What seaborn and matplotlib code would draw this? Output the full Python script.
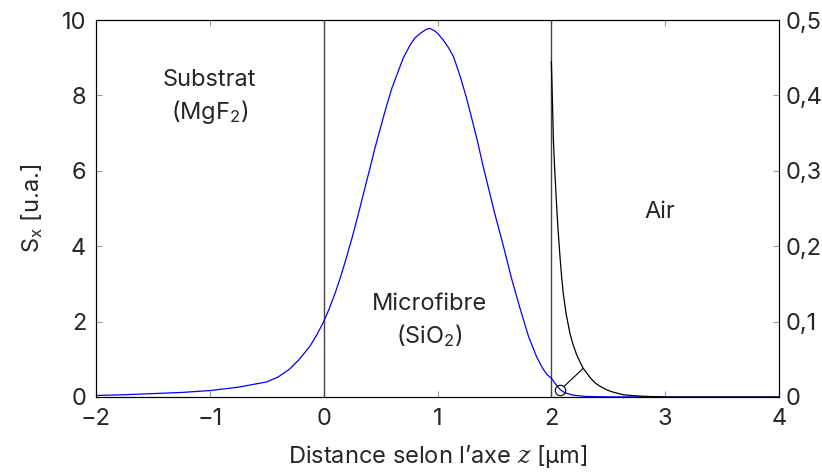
import numpy as np
import matplotlib
matplotlib.use("Agg")
import matplotlib.pyplot as plt
import seaborn as sns
from matplotlib.ticker import FuncFormatter

# field profile in the fibre (left axis)
z_fibre = [-2.0, -1.75, -1.5, -1.25, -1.0, -0.75, -0.5, -0.4, -0.3, -0.22, -0.12,
           -0.06, 0.0, 0.05, 0.1, 0.15, 0.2, 0.26, 0.3, 0.35, 0.41, 0.45, 0.5,
           0.55, 0.6, 0.65, 0.7, 0.76, 0.8, 0.85, 0.9, 0.93, 0.97, 1.0, 1.05,
           1.1, 1.14, 1.2, 1.25, 1.29, 1.35, 1.4, 1.43, 1.5, 1.58, 1.65, 1.72,
           1.8, 1.87, 1.92, 1.96, 2.0, 2.04, 2.08, 2.12, 2.19, 2.3, 2.5, 3.0, 4.0]
s_fibre = [0.04, 0.06, 0.09, 0.12, 0.17, 0.26, 0.40, 0.53, 0.74, 0.98, 1.35,
           1.65, 2.0, 2.35, 2.75, 3.2, 3.7, 4.34, 4.8, 5.4, 6.11, 6.6, 7.15,
           7.70, 8.2, 8.6, 9.0, 9.34, 9.52, 9.65, 9.75, 9.78, 9.72, 9.65, 9.47,
           9.25, 9.03, 8.5, 7.98, 7.52, 6.8, 6.13, 5.76, 4.9, 3.99, 3.15, 2.40,
           1.6, 1.07, 0.78, 0.60, 0.50, 0.33, 0.19, 0.11, 0.05, 0.015, 0.003, 0.0, 0.0]

# evanescent part in air (right axis)
z_air = [2.0, 2.01, 2.018, 2.03, 2.047, 2.06, 2.076, 2.09, 2.105, 2.13, 2.164,
         2.19, 2.22, 2.25, 2.28, 2.32, 2.35, 2.39, 2.43, 2.48, 2.53, 2.58, 2.63,
         2.7, 2.8, 2.9, 3.0, 4.0]
s_air = [0.445, 0.39, 0.341, 0.30, 0.252, 0.22, 0.186, 0.16, 0.137, 0.11, 0.084,
         0.07, 0.057, 0.047, 0.038, 0.030, 0.024, 0.018, 0.014, 0.010, 0.007,
         0.005, 0.003, 0.002, 0.001, 0.0005, 0.0, 0.0]

interfaces = [0, 2]
pin_from = 2.08
pin_to = 2.28

x_ticks = [-2, -1, 0, 1, 2, 3, 4]
left_ticks = [0, 2, 4, 6, 8, 10]
right_ticks = [0, 0.1, 0.2, 0.3, 0.4, 0.5]

sns.set_theme(style="white")
plt.rcParams['font.family'] = ['Inter', 'DejaVu Sans']
plt.rcParams['mathtext.fontset'] = 'custom'
plt.rcParams['mathtext.rm'] = 'Inter'
plt.rcParams['mathtext.it'] = 'DejaVu Serif:italic'
plt.rcParams['axes.unicode_minus'] = True

fs = 17
fig = plt.figure(figsize=(8.22, 4.73), dpi=100)
ax = fig.add_axes([0.1168, 0.1607, 0.8309, 0.797])
ax2 = ax.twinx()

for xi in interfaces:
    ax.axvline(xi, color='#444444', lw=1.0, zorder=1)

sns.lineplot(x=z_fibre, y=s_fibre, ax=ax, color='#0000ff', lw=0.9, zorder=3)
sns.lineplot(x=z_air, y=s_air, ax=ax2, color='black', lw=0.9, zorder=3)

ax.set_xlim(-2, 4)
ax.set_ylim(0, 10)
ax2.set_ylim(0, 0.5)
ax.set_xticks(x_ticks)
ax.set_yticks(left_ticks)
ax2.set_yticks(right_ticks)
ax.xaxis.set_major_formatter(FuncFormatter(lambda v, p: f"{v:g}".replace('-', '\u2212')))
ax2.yaxis.set_major_formatter(FuncFormatter(lambda v, p: f"{v:g}".replace('.', ',')))

for a in (ax, ax2):
    for s in a.spines.values():
        s.set_color('black')
        s.set_linewidth(0.8)
ax.tick_params(axis='x', which='both', direction='in', top=True, bottom=True,
               length=4, width=0.8, color='#999999', labelsize=fs, pad=8)
ax.tick_params(axis='y', direction='in', left=True, right=False,
               length=4, width=0.8, color='#999999', labelsize=fs, pad=7)
ax2.tick_params(axis='y', direction='in', right=True, left=False,
                length=4, width=0.8, color='#999999', labelsize=fs, pad=5)

ax.set_xlabel("Distance selon l\u2019axe $z$ [µm]", fontsize=fs, labelpad=9)
ax.set_ylabel(r"$\mathrm{S_x}$ [u.a.]", fontsize=fs, labelpad=12)

ax.text(-1, 7.95, "Substrat\n(MgF$_\\mathrm{2}$)", ha='center', va='center', fontsize=fs,
        linespacing=1.35)
ax.text(0.93, 2.02, "Microfibre\n(SiO$_\\mathrm{2}$)", ha='center', va='center', fontsize=fs,
        linespacing=1.35)
ax.text(2.95, 4.9, "Air", ha='center', va='center', fontsize=fs)

# pin linking the blue tail to the zoomed curve
y_from = np.interp(pin_from, z_fibre, s_fibre)
y_to = np.interp(pin_to, z_air, s_air) / 0.5 * 10
ax.plot([pin_from], [y_from], marker='o', ms=7.5, mfc='none', mec='black', mew=0.8, zorder=4)
ax.annotate("", xy=(pin_to, y_to), xytext=(pin_from, y_from),
            arrowprops=dict(arrowstyle='-', color='black', lw=0.8, shrinkA=4, shrinkB=0))

fig.savefig("out.png", dpi=100)
